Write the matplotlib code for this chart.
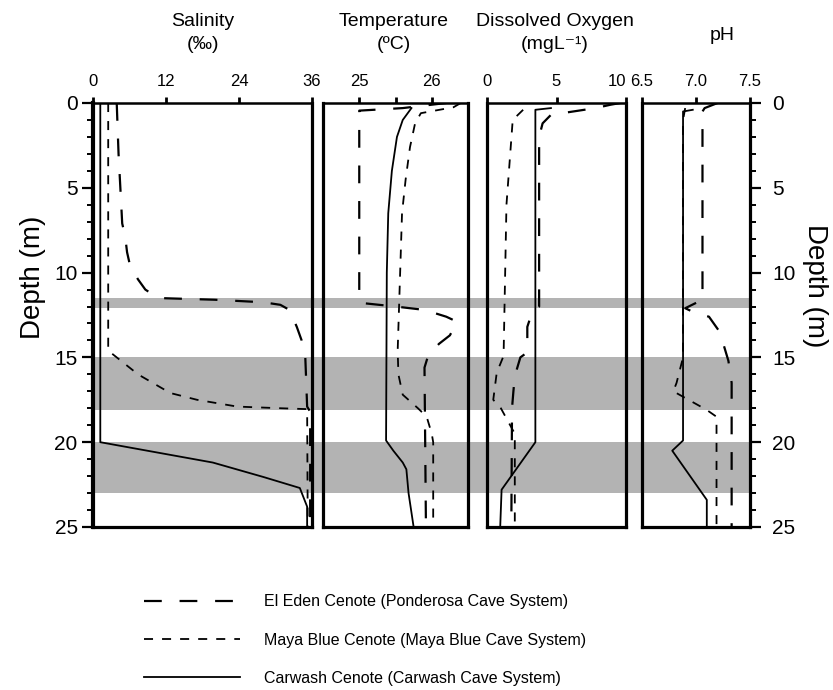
import matplotlib
matplotlib.use("Agg")
import matplotlib.pyplot as plt
from matplotlib.lines import Line2D
from matplotlib.ticker import MultipleLocator, FixedLocator

plt.rcParams['font.family'] = ['Liberation Sans', 'DejaVu Sans']

# ---------------- profile data (depth in m) ----------------
# Salinity (per mille)
sal_eden_depth = [0, 3, 5.7, 7.1, 7.9, 8.8, 9.6, 10.4, 11.0, 11.5, 11.6, 11.75, 11.9, 12.2, 13.2, 14.0, 15.0, 17.9, 18.2, 25]
sal_eden = [3.9, 4.2, 4.6, 4.8, 5.3, 5.6, 6.1, 7.4, 8.6, 10.7, 20, 28, 30.8, 32.3, 33.5, 34.3, 34.9, 35.2, 35.7, 35.7]
sal_maya_depth = [0, 14.6, 15.0, 16.0, 17.1, 17.5, 17.9, 18.0, 18.05, 25]
sal_maya = [2.5, 2.5, 3.9, 7.4, 12.7, 17.1, 23.7, 31, 35.2, 35.3]
sal_car_depth = [0, 20, 20.5, 21.2, 22.05, 22.7, 23.8, 25]
sal_car = [1.2, 1.2, 8.9, 19.7, 28, 34, 35.2, 35.2]

# Temperature (deg C)
tmp_eden_depth = [0, 0.3, 0.45, 11.6, 11.8, 12.0, 12.2, 12.6, 12.9, 13.7, 14.2, 14.9, 15.6, 25]
tmp_eden = [26.2, 25.6, 25.0, 25.0, 25.05, 25.5, 25.9, 26.2, 26.35, 26.25, 26.1, 25.95, 25.9, 25.92]
tmp_maya_depth = [0, 0.25, 0.6, 1.2, 2.6, 4.5, 6.5, 14.6, 16.0, 17.2, 18.0, 18.5, 19.5, 20, 25]
tmp_maya = [26.4, 26.3, 25.85, 25.77, 25.7, 25.64, 25.59, 25.53, 25.54, 25.6, 25.81, 25.93, 26.0, 26.02, 26.02]
tmp_car_depth = [0.3, 1, 2, 4, 6.5, 10, 19.9, 20.5, 21.2, 21.6, 23, 25]
tmp_car = [25.72, 25.6, 25.52, 25.45, 25.4, 25.38, 25.37, 25.47, 25.6, 25.65, 25.68, 25.75]

# Dissolved oxygen (mg/L)
do_eden_depth = [0, 0.1, 0.3, 0.5, 0.7, 1.2, 2, 12.0, 12.2, 13.2, 14.7, 15.0, 16.1, 17.0, 18, 25]
do_eden = [9.6, 8.9, 7.8, 6.2, 4.6, 4.0, 3.75, 3.75, 3.3, 2.9, 2.9, 2.4, 2.0, 1.9, 1.8, 1.75]
do_maya_depth = [0.4, 1.0, 6, 14.6, 15.0, 15.9, 17.5, 18.0, 19.5, 25]
do_maya = [2.6, 1.85, 1.4, 1.2, 1.15, 0.7, 0.45, 1.0, 2.0, 2.0]
do_car_depth = [0.3, 0.4, 20, 22.8, 25]
do_car = [4.6, 3.48, 3.48, 1.05, 0.95]

# pH
ph_eden_depth = [0, 0.3, 0.5, 11.6, 12.1, 12.4, 12.6, 13.5, 15.2, 16.5, 25]
ph_eden = [7.2, 7.08, 7.06, 7.06, 6.9, 7.0, 7.12, 7.22, 7.3, 7.33, 7.33]
ph_maya_depth = [0.3, 1, 15, 16.5, 17.0, 18.1, 18.5, 25]
ph_maya = [6.9, 6.88, 6.88, 6.82, 6.79, 7.1, 7.19, 7.19]
ph_car_depth = [0.4, 0.5, 19.9, 20.5, 23.4, 25]
ph_car = [6.97, 6.88, 6.88, 6.78, 7.1, 7.1]

# Shaded depth intervals
bands = [(11.5, 12.1), (15.0, 18.1), (20.0, 23.0)]

# Axis settings per panel
titles = ["Salinity\n(‰)", "Temperature\n(ºC)", "Dissolved Oxygen\n(mgL⁻¹)", "pH"]
xlims = [(0, 36), (24.5, 26.5), (0, 10), (6.5, 7.5)]
xticks = [[0, 12, 24, 36], [25, 26], [0, 5, 10], [6.5, 7.0, 7.5]]
xticklabels = [["0", "12", "24", "36"], ["25", "26"], ["0", "5", "10"], ["6.5", "7.0", "7.5"]]
xminor = [[], [25.5], [], []]

series_labels = ["El Eden Cenote (Ponderosa Cave System)",
                 "Maya Blue Cenote (Maya Blue Cave System)",
                 "Carwash Cenote (Carwash Cave System)"]

# ---------------- layout ----------------
W, H = 833, 690
fig = plt.figure(figsize=(W / 100, H / 100), dpi=100)


def fx(px):
    return px / W


def fy(py):
    return 1 - py / H


top_px, bot_px = 103, 527
panel_px = [(93, 312), (323, 468), (487, 626), (642, 750)]

band_color = '#b3b3b3'
eden_style = dict(color='black', lw=1.6, ls=(0, (8, 8)))
maya_style = dict(color='black', lw=1.3, ls=(0, (5, 5)))
car_style = dict(color='black', lw=1.3, ls='-')

# shaded bands run continuously across all panels
bg = fig.add_axes([fx(panel_px[0][0]), fy(bot_px), fx(panel_px[-1][1]) - fx(panel_px[0][0]),
                   (bot_px - top_px) / H])
bg.set_ylim(25, 0)
bg.set_xlim(0, 1)
for d0, d1 in bands:
    bg.axhspan(d0, d1, color=band_color, lw=0)
bg.axis('off')
bg.set_zorder(0)

data = [
    ((sal_eden, sal_eden_depth), (sal_maya, sal_maya_depth), (sal_car, sal_car_depth)),
    ((tmp_eden, tmp_eden_depth), (tmp_maya, tmp_maya_depth), (tmp_car, tmp_car_depth)),
    ((do_eden, do_eden_depth), (do_maya, do_maya_depth), (do_car, do_car_depth)),
    ((ph_eden, ph_eden_depth), (ph_maya, ph_maya_depth), (ph_car, ph_car_depth)),
]

axes = []
for i, (x0, x1) in enumerate(panel_px):
    ax = fig.add_axes([fx(x0), fy(bot_px), fx(x1) - fx(x0), (bot_px - top_px) / H])
    ax.set_zorder(2)
    ax.patch.set_alpha(0)
    ax.set_xlim(*xlims[i])
    ax.set_ylim(25, 0)
    (e, ed), (m, md), (c, cd) = data[i]
    ax.plot(e, ed, **eden_style)
    ax.plot(m, md, **maya_style)
    ax.plot(c, cd, **car_style)

    for s in ax.spines.values():
        s.set_linewidth(2.3)
    ax.spines['top'].set_linewidth(1.8)
    if i == 0:
        ax.spines['left'].set_linewidth(3.0)

    ax.xaxis.tick_top()
    ax.xaxis.set_major_locator(FixedLocator(xticks[i]))
    ax.set_xticklabels(xticklabels[i])
    if xminor[i]:
        ax.xaxis.set_minor_locator(FixedLocator(xminor[i]))
    ax.tick_params(axis='x', which='both', direction='out', length=4, width=2,
                   pad=6, labelsize=12, top=True, bottom=False)
    ax.tick_params(axis='x', which='minor', length=4)

    ax.yaxis.set_major_locator(MultipleLocator(5))
    ax.yaxis.set_minor_locator(MultipleLocator(1))
    if i == 0:
        ax.tick_params(axis='y', which='major', direction='out', length=8, width=1.6,
                       labelsize=15, pad=3)
        ax.tick_params(axis='y', which='minor', direction='out', length=4, width=1.4)
        ax.set_ylabel("Depth (m)", fontsize=20)
        ax.yaxis.set_label_coords(-0.215, 0.59)
    elif i == 3:
        ax.yaxis.tick_right()
        ax.yaxis.set_label_position('right')
        ax.tick_params(axis='y', which='major', direction='out', length=8, width=1.6,
                       labelsize=15, pad=8)
        ax.tick_params(axis='y', which='minor', direction='out', length=4, width=1.4)
        ax.set_ylabel("Depth (m)", fontsize=20, rotation=270, va='center')
        ax.yaxis.set_label_coords(1.6, 0.57)
    else:
        ax.tick_params(axis='y', which='both', left=False, right=False,
                       labelleft=False, labelright=False)
    axes.append(ax)

# "10" on the oxygen axis sits flush against the right frame
for lab in axes[2].get_xticklabels():
    if lab.get_text() == "10":
        lab.set_horizontalalignment('right')

# panel headers
title_pos = [(203, 33), (394, 33), (555, 33), (722, 36)]
for t, (px, py) in zip(titles, title_pos):
    fig.text(fx(px), fy(py), t, ha='center', va='center', fontsize=14, linespacing=1.45)

# legend
handles = [Line2D([], [], **eden_style), Line2D([], [], **maya_style), Line2D([], [], **car_style)]
fig.legend(handles, series_labels, loc='upper left', bbox_to_anchor=(fx(138), fy(588)),
           frameon=False, fontsize=11.5, handlelength=6.0, handletextpad=1.5,
           labelspacing=1.45, borderaxespad=0)

fig.savefig("out.png", dpi=100)
